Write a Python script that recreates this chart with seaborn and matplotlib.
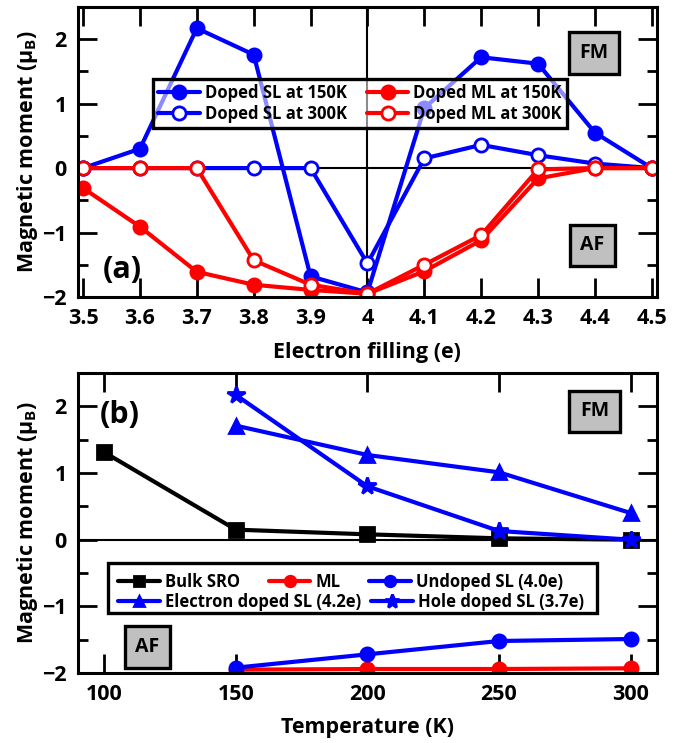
import numpy as np
import pandas as pd
import matplotlib
matplotlib.use("Agg")
import matplotlib.pyplot as plt
import seaborn as sns
from matplotlib.ticker import MultipleLocator, FuncFormatter
from matplotlib.patches import Rectangle

# ---------------- data: panel (a) ----------------
filling = [3.5, 3.6, 3.7, 3.8, 3.9, 4.0, 4.1, 4.2, 4.3, 4.4, 4.5]
sl_150 = [0.0, 0.30, 2.17, 1.76, -1.68, -1.93, 0.93, 1.72, 1.62, 0.55, 0.0]
sl_300 = [0.0, 0.0, 0.0, 0.0, 0.0, -1.48, 0.15, 0.36, 0.20, 0.07, 0.0]
ml_150 = [-0.31, -0.91, -1.61, -1.81, -1.89, -1.95, -1.60, -1.12, -0.16, 0.0, 0.0]
ml_300 = [0.0, 0.0, 0.0, -1.43, -1.81, -1.95, -1.50, -1.04, -0.02, 0.0, 0.0]

# ---------------- data: panel (b) ----------------
temps_bulk = [100, 150, 200, 250, 300]
bulk_sro = [1.31, 0.15, 0.08, 0.02, 0.0]
temps_sl = [150, 200, 250, 300]
ml_temp = [-1.95, -1.94, -1.94, -1.93]
undoped_sl = [-1.92, -1.72, -1.52, -1.49]
electron_sl = [1.71, 1.27, 1.01, 0.40]
hole_sl = [2.17, 0.80, 0.13, 0.0]
temp_ticks = [100, 150, 200, 250, 300]

BLUE = "#0000ff"
RED = "#ff0000"
FONT = "Open Sans"

sns.set_theme(style="ticks")
plt.rcParams.update({
    "font.family": [FONT, "DejaVu Sans"],
    "font.weight": "bold",
    "axes.labelweight": "bold",
    "mathtext.fontset": "custom",
    "mathtext.rm": f"{FONT}:bold",
    "mathtext.default": "rm",
    "axes.linewidth": 2.2,
    "axes.edgecolor": "black",
    "xtick.color": "black",
    "ytick.color": "black",
    "text.color": "black",
    "axes.labelcolor": "black",
})

fig = plt.figure(figsize=(6.9, 7.43), dpi=100)
ax1 = fig.add_axes([0.113, 0.6003, 0.839, 0.3903])
ax2 = fig.add_axes([0.113, 0.0942, 0.839, 0.4038])

LW = 3.0
MS = 9.5
LEGFS = 12


def draw(ax, x, y, color, marker, filled, label, z, ms=MS):
    df = pd.DataFrame({"x": x, "y": y})
    sns.lineplot(data=df, x="x", y="y", ax=ax, color=color, marker=marker,
                 markersize=ms, markerfacecolor=color if filled else "white",
                 markeredgecolor=color, markeredgewidth=2.0, linewidth=LW,
                 sort=False, label=label, legend=False, zorder=z)


def style_axes(ax):
    ax.tick_params(which="both", direction="in", top=True, right=True,
                   labelsize=15.5, pad=8, width=2.0)
    ax.tick_params(which="major", length=14)
    ax.tick_params(which="minor", length=7)
    for s in ax.spines.values():
        s.set_linewidth(2.2)
        s.set_zorder(10)


def tag_box(ax, x, y, text):
    ax.text(x, y, text, transform=ax.transAxes, ha="center", va="center",
            fontsize=14, fontweight="bold", zorder=12,
            bbox=dict(boxstyle="square,pad=0.55", facecolor="#c0c0c0",
                      edgecolor="black", linewidth=2.4))


# ---------------- panel (a) ----------------
ax1.axhline(0, color="black", lw=1.5, zorder=1)
ax1.axvline(4.0, color="black", lw=1.5, zorder=1)
draw(ax1, filling, sl_150, BLUE, "o", True, "Doped SL at 150K", 3)
draw(ax1, filling, sl_300, BLUE, "o", False, "Doped SL at 300K", 4)
draw(ax1, filling, ml_150, RED, "o", True, "Doped ML at 150K", 5)
draw(ax1, filling, ml_300, RED, "o", False, "Doped ML at 300K", 6)

ax1.set_xlim(3.491, 4.509)
ax1.set_ylim(-2, 2.5)
ax1.set_xticks(filling)
ax1.xaxis.set_major_formatter(FuncFormatter(lambda v, p: f"{v:g}"))
ax1.yaxis.set_major_locator(MultipleLocator(1))
ax1.yaxis.set_minor_locator(MultipleLocator(0.5))
style_axes(ax1)
ax1.set_xlabel("Electron filling (e)", fontsize=15.5, fontweight="bold")
ax1.set_ylabel("Magnetic moment (μ$_{B}$)", fontsize=15.5, fontweight="bold")
ax1.xaxis.set_label_coords(0.5, -0.155)
ax1.yaxis.set_label_coords(-0.066, 0.5)

h, l = ax1.get_legend_handles_labels()
leg1 = ax1.legend(h, l, ncol=2, mode="expand", loc="center",
                  bbox_to_anchor=(0.1295, 0.586, 0.715, 0.162),
                  borderaxespad=0, fontsize=LEGFS, handlelength=2.5,
                  handletextpad=0.3, labelspacing=0.15, borderpad=0.3,
                  frameon=True, fancybox=False, framealpha=1,
                  edgecolor="black")
fr = leg1.get_frame()
fr.set_alpha(None)
fr.set_facecolor((1, 1, 1, 0.55))
fr.set_edgecolor("black")
fr.set_linewidth(2.4)
leg1.set_zorder(11)

ax1.text(0.076, 0.093, "(a)", transform=ax1.transAxes, ha="center",
         va="center", fontsize=22, fontweight="bold", zorder=12)
tag_box(ax1, 0.891, 0.841, "FM")
tag_box(ax1, 0.889, 0.178, "AF")

# ---------------- panel (b) ----------------
ax2.axhline(0, color="black", lw=1.5, zorder=1)
draw(ax2, temps_bulk, bulk_sro, "black", "s", True, "Bulk SRO", 3)
draw(ax2, temps_sl, ml_temp, RED, "o", True, "ML", 4)
draw(ax2, temps_sl, undoped_sl, BLUE, "o", True, "Undoped SL (4.0e)", 5)
draw(ax2, temps_sl, electron_sl, BLUE, "^", True, "Electron doped SL (4.2e)", 6)
draw(ax2, temps_sl, hole_sl, BLUE, "*", True, "Hole doped SL (3.7e)", 7, ms=13)

ax2.set_xlim(90, 310)
ax2.set_ylim(-2, 2.5)
ax2.set_xticks(temp_ticks)
ax2.yaxis.set_major_locator(MultipleLocator(1))
ax2.yaxis.set_minor_locator(MultipleLocator(0.5))
style_axes(ax2)
ax2.set_xlabel("Temperature (K)", fontsize=15.5, fontweight="bold")
ax2.set_ylabel("Magnetic moment (μ$_{B}$)", fontsize=15.5, fontweight="bold")
ax2.xaxis.set_label_coords(0.5, -0.145)
ax2.yaxis.set_label_coords(-0.066, 0.5)

h2, l2 = ax2.get_legend_handles_labels()
hd = dict(zip(l2, h2))
# legend frame
ax2.add_patch(Rectangle((0.0518, 0.20), 0.8446, 0.1667, transform=ax2.transAxes,
                        facecolor="white", edgecolor="black", linewidth=2.4,
                        zorder=10))
common = dict(mode="expand", loc="center", borderaxespad=0, fontsize=LEGFS,
              handlelength=2.5, handletextpad=0.3, borderpad=0.0,
              frameon=False, markerscale=0.8)
row1 = ["Bulk SRO", "ML", "Undoped SL (4.0e)"]
row2 = ["Electron doped SL (4.2e)", "Hole doped SL (3.7e)"]
lg_a = ax2.legend([hd[k] for k in row1], row1, ncol=3,
                  bbox_to_anchor=(0.069, 0.274, 0.769, 0.06), **common)
lg_a.set_zorder(11)
ax2.add_artist(lg_a)
lg_b = ax2.legend([hd[k] for k in row2], row2, ncol=2,
                  bbox_to_anchor=(0.069, 0.208, 0.805, 0.06), **common)
lg_b.set_zorder(11)

ax2.text(0.073, 0.86, "(b)", transform=ax2.transAxes, ha="center",
         va="center", fontsize=22, fontweight="bold", zorder=12)
tag_box(ax2, 0.892, 0.872, "FM")
tag_box(ax2, 0.12, 0.087, "AF")

fig.savefig("out.png", dpi=100)
